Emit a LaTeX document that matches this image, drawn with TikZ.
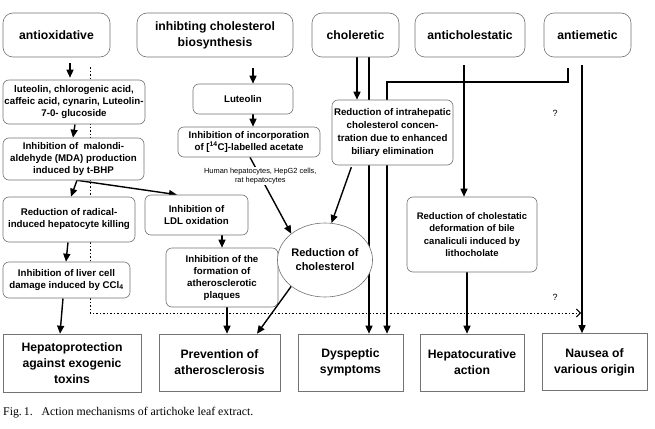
\documentclass[tikz,border=0pt]{standalone}
\usepackage{fontspec}
\setmainfont{Liberation Serif}
\newfontfamily\arialf{Liberation Sans}
\usetikzlibrary{arrows.meta,shapes.geometric}
\pgfdeclarelayer{background}
\pgfsetlayers{background,main}
\begin{document}
\begin{tikzpicture}[x=1pt,y=-1pt,
  box/.style={draw=black!55, line width=0.6pt, rounded corners=6pt, fill=white, align=center, inner sep=0pt,
    font=\arialf\bfseries\fontsize{9.7}{12}\selectfont},
  topbox/.style={box, rounded corners=10pt, font=\arialf\bfseries\fontsize{12.2}{16}\selectfont},
  outbox/.style={draw=black!55, line width=0.6pt, fill=white, align=center, inner sep=0pt,
    font=\arialf\bfseries\fontsize{12.2}{16}\selectfont},
  arr/.style={line width=1.4pt, -{Triangle[length=8pt,width=7pt]}},
  dotline/.style={line width=1pt, dash pattern=on 1.2pt off 2.3pt},
  qmark/.style={font=\arialf\fontsize{9}{10}\selectfont, inner sep=0pt}
]
\useasboundingbox (0,0) rectangle (655,428);
% top row
\node[topbox, minimum width=107pt, minimum height=44pt] (ao) at (56.5,35) {antioxidative};
\node[topbox, minimum width=156pt, minimum height=44pt] (icb) at (215,35) {inhibting cholesterol\\biosynthesis};
\node[topbox, minimum width=87pt, minimum height=44pt] (chol) at (355.5,35) {choleretic};
\node[topbox, minimum width=110pt, minimum height=44pt] (antic) at (470,35) {anticholestatic};
\node[topbox, minimum width=87pt, minimum height=44pt] (antie) at (587.5,35) {antiemetic};
% middle
\node[box, minimum width=142pt, minimum height=44pt] (lut) at (74,102) {luteolin, chlorogenic acid,\\caffeic acid, cynarin, Luteolin-\\7-0- glucoside};
\node[box, minimum width=100pt, minimum height=30pt] (lut2) at (243,99) {Luteolin};
\node[box, minimum width=142pt, minimum height=30pt] (inc) at (249,142) {Inhibition of incorporation\\of [\textsuperscript{14}C]-labelled acetate};
\node[box, minimum width=141pt, minimum height=42pt] (mda) at (73.5,159) {Inhibition of\ \ malondi-\\aldehyde (MDA) production\\induced by t-BHP};
\node[box, minimum width=121pt, minimum height=65pt, font=\arialf\bfseries\fontsize{9.7}{12.8}\selectfont] (intra) at (392.5,132.5) {Reduction of intrahepatic\\cholesterol concen-\\tration due to enhanced\\biliary elimination};
\node[box, minimum width=132pt, minimum height=45pt] (rad) at (69,219.5) {Reduction of radical-\\induced hepatocyte killing};
\node[box, minimum width=103pt, minimum height=40pt] (ldl) at (196.5,215) {Inhibition of\\LDL oxidation};
\node[box, minimum width=127pt, minimum height=36pt] (liver) at (66.5,280) {Inhibition of liver cell\\damage induced by CCl\textsubscript{4}};
\node[box, minimum width=112pt, minimum height=59pt] (plaq) at (222,277.5) {Inhibition of the\\formation of\\atherosclerotic\\plaques};
\node[ellipse, draw=black!55, line width=0.6pt, fill=white, inner sep=0pt, minimum width=86pt, minimum height=74pt, align=center,
  font=\arialf\bfseries\fontsize{11}{14}\selectfont] (chol2) at (325,260) {Reduction of\\cholesterol};
\node[box, minimum width=130pt, minimum height=75pt, font=\arialf\bfseries\fontsize{9.5}{12.5}\selectfont] (cholst) at (472,234.5) {Reduction of cholestatic\\deformation of bile\\canaliculi induced by\\lithocholate};
% bottom
\node[outbox, minimum width=138pt, minimum height=58pt] (hp) at (72,363) {Hepatoprotection\\against exogenic\\toxins};
\node[outbox, minimum width=121pt, minimum height=57pt] (prev) at (219.5,362.5) {Prevention of\\atherosclerosis};
\node[outbox, minimum width=105pt, minimum height=57pt] (dys) at (350.5,362.5) {Dyspeptic\\symptoms};
\node[outbox, minimum width=104pt, minimum height=57pt] (hc) at (472,362.5) {Hepatocurative\\action};
\node[outbox, minimum width=105pt, minimum height=57pt] (naus) at (594.5,362) {Nausea of\\various origin};
% question marks
\node[qmark] (q1) at (555,113) {?};
\node[qmark] (q2) at (555,297) {?};
% caption
\node[anchor=west, inner sep=0pt, font=\fontsize{11.8}{13}\selectfont] (cap) at (3,413) {Fig.\,1.\ \ \ Action mechanisms of artichoke leaf extract.};
% helper coordinates
\coordinate (dotend) at (581,313);
\coordinate (bend) at (387,82);

\begin{pgfonlayer}{background}
% dotted pathway
\draw[dotline, shorten <=10pt, -{Straight Barb[length=4pt,width=8pt,line width=1pt]}] (ao.south -| 90,0) |- (dotend);
% antioxidative column
\draw[arr, shorten <=6pt, shorten >=2pt] (ao.south -| 70,0) -- (lut.north -| 70,0);
\draw[arr] (lut.south -| 75,0) -- (mda.north -| 73,0);
\draw[arr] (mda.south -| 77,0) -- (rad.north -| 71,0);
\draw[arr] (mda.south -| 77,0) -- (ldl.north -| 177,0);
\draw[arr] (rad.south -| 68,0) -- (liver.north -| 66,0);
\draw[arr] (liver.south -| 63,0) -- (hp.north -| 60,0);
% cholesterol biosynthesis column
\draw[arr, shorten <=11pt] (icb.south -| 253,0) -- (lut2.north -| 253,0);
\draw[arr] (lut2.south -| 253,0) -- (inc.north -| 253,0);
\draw[arr] (inc.south -| 250,0) -- node[pos=0.25, fill=white, inner sep=1pt, align=center,
  font=\arialf\fontsize{7.4}{9}\selectfont] (cells) {Human hepatocytes, HepG2 cells,\\rat hepatocytes} (chol2.north west);
\draw[arr] (ldl.south -| 222,0) -- (plaq.north -| 222,0);
\draw[arr] (plaq.south -| 227,0) -- (prev.north -| 227,0);
\draw[arr] (chol2.south west) -- (prev.north -| 257,0);
% choleretic
\draw[arr] (chol.south -| 357,0) -- (intra.north -| 357,0);
\draw[arr, shorten <=2pt] (intra.south -| 352,0) -- (chol2.80);
\draw[arr] (chol.south -| 369,0) -- (dys.north -| 369,0);
% antiemetic to dyspeptic
\draw[arr, shorten <=11pt] (antie.south -| 568,0) |- (bend) -- (dys.north -| bend);
% anticholestatic
\draw[arr, shorten <=8pt] (antic.south -| 464,0) -- (cholst.north -| 464,0);
\draw[arr] (cholst.south -| 467,0) -- (hc.north -| 467,0);
% antiemetic to nausea
\draw[arr, shorten <=8pt] (antie.south -| 582,0) -- (naus.north -| 582,0);
\end{pgfonlayer}
\end{tikzpicture}
\end{document}
